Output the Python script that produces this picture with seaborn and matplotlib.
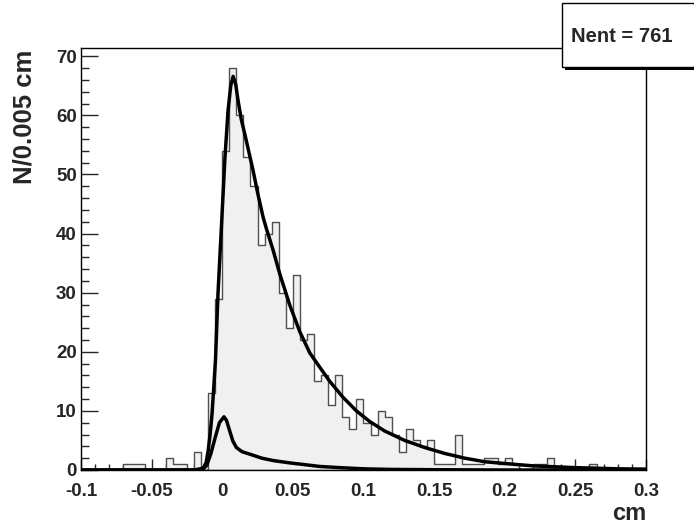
import numpy as np
import pandas as pd
import matplotlib
matplotlib.use('Agg')
import matplotlib.pyplot as plt
import seaborn as sns
from matplotlib.patches import Rectangle
from matplotlib.ticker import MultipleLocator

# histogram: 80 bins of 0.005 cm from -0.1 to 0.3
bin_lo = -0.1
bin_w = 0.005
counts = [0, 0, 0, 0, 0, 0, 1, 1, 1, 0,
          0, 0, 2, 1, 1, 0, 3, 0, 13, 29,
          54, 68, 60, 53, 48, 38, 40, 42, 30, 24,
          33, 22, 23, 15, 16, 11, 16, 9, 7, 12,
          8, 6, 10, 9, 6, 3, 7, 5, 4, 5,
          1, 1, 1, 6, 1, 1, 1, 2, 2, 1,
          2, 1, 0, 0, 1, 1, 2, 0, 0, 0,
          0, 0, 1, 0, 0, 0, 0, 0, 0, 0]

# fitted curves, points
fit_x = [-0.1, -0.02, -0.0136, -0.0115, -0.01, -0.0085, -0.0072, -0.006, -0.0048,
         -0.003, -0.0006, 0.0018, 0.0041, 0.006, 0.0077, 0.0095, 0.0112, 0.0135,
         0.0159, 0.0218, 0.0254, 0.0289, 0.0313, 0.036, 0.0407, 0.0478, 0.0549,
         0.062, 0.069, 0.0761, 0.0855, 0.095, 0.1044, 0.115, 0.1292, 0.1434,
         0.1575, 0.1717, 0.1858, 0.2, 0.22, 0.25, 0.28, 0.3]
fit_y = [0, 0, 0.3, 1.2, 3.2, 6.2, 9.6, 14, 18.6,
         29.9, 41.1, 52.4, 60.8, 65, 66.6, 65.3, 62.5, 59.3,
         56.9, 50.7, 46.5, 42.8, 40.8, 37.2, 33.2, 27.9, 23.4,
         19.8, 17.4, 15.0, 12.3, 10.0, 8.2, 6.6, 5.0, 3.8,
         2.8, 2.0, 1.4, 1.1, 0.7, 0.4, 0.2, 0.15]

res_x = [-0.1, -0.02, -0.014, -0.011, -0.008, -0.005, -0.002, 0.0012, 0.003,
         0.0053, 0.0075, 0.01, 0.014, 0.0218, 0.028, 0.036, 0.0478, 0.055,
         0.069, 0.083, 0.1, 0.119, 0.15, 0.2, 0.3]
res_y = [0, 0, 0, 0.8, 2.8, 5.5, 8.0, 9.0, 8.4,
         6.6, 4.9, 3.8, 3.1, 2.5, 2.0, 1.6, 1.2, 1.0,
         0.6, 0.4, 0.2, 0.1, 0.05, 0, 0]

xticks = [-0.1, -0.05, 0, 0.05, 0.1, 0.15, 0.2, 0.25, 0.3]
xtick_labels = ['-0.1', '-0.05', '0', '0.05', '0.1', '0.15', '0.2', '0.25', '0.3']
yticks = [0, 10, 20, 30, 40, 50, 60, 70]

edges = [round(bin_lo + bin_w * i, 4) for i in range(len(counts) + 1)]
df = pd.DataFrame({'x': [e + bin_w / 2 for e in edges[:-1]], 'n': counts})

sns.set_style('ticks')
plt.rcParams['font.family'] = ['Liberation Sans', 'DejaVu Sans']
plt.rcParams['font.weight'] = 'bold'

fig = plt.figure(figsize=(6.94, 5.24), dpi=100)
ax = fig.add_axes([81 / 694, 54 / 524, 565 / 694, 422 / 524])

sns.histplot(data=df, x='x', weights='n', bins=edges, element='step', fill=True,
             color='#f0f0f0', edgecolor='#505050', linewidth=1.0, alpha=1, ax=ax)
sns.lineplot(x=fit_x, y=fit_y, color='black', lw=2.5, sort=False, ax=ax)
sns.lineplot(x=res_x, y=res_y, color='black', lw=2.5, sort=False, ax=ax)

ax.set_xlim(-0.1, 0.3)
ax.set_ylim(0, 71.4)
ax.set_xticks(xticks)
ax.set_xticklabels(xtick_labels)
ax.set_yticks(yticks)
ax.set_yticklabels([str(v) for v in yticks])
ax.xaxis.set_minor_locator(MultipleLocator(0.01))
ax.yaxis.set_minor_locator(MultipleLocator(2))
ax.tick_params(axis='x', which='major', direction='in', length=8, width=1, pad=9, labelsize=13.5)
ax.tick_params(axis='x', which='minor', direction='in', length=4, width=1)
ax.tick_params(axis='y', which='major', direction='in', length=12, width=1, pad=3, labelsize=13.5)
ax.tick_params(axis='y', which='minor', direction='in', length=6, width=1)
ax.set_xlabel('')
ax.set_ylabel('')
for s in ax.spines.values():
    s.set_visible(True)
    s.set_color('black')
    s.set_linewidth(1)

fig.text(24 / 694, 1 - 50 / 524, 'N/0.005 cm', rotation=90, ha='center', va='top',
         fontsize=18.5, fontweight='bold')
fig.text(646 / 694, 1 - 514 / 524, 'cm', ha='right', va='center', fontsize=17, fontweight='bold')

# stats box with shadow
fig.patches.append(Rectangle((565 / 694, 1 - 70 / 524), 140 / 694, 64 / 524,
                             transform=fig.transFigure, facecolor='black', edgecolor='none'))
fig.patches.append(Rectangle((562 / 694, 1 - 67 / 524), 140 / 694, 64 / 524,
                             transform=fig.transFigure, facecolor='white', edgecolor='black', lw=1))
fig.text(571 / 694, 1 - 37 / 524, 'Nent = 761', ha='left', va='center', fontsize=14.5, fontweight='bold')

fig.savefig('out.png', dpi=100)
